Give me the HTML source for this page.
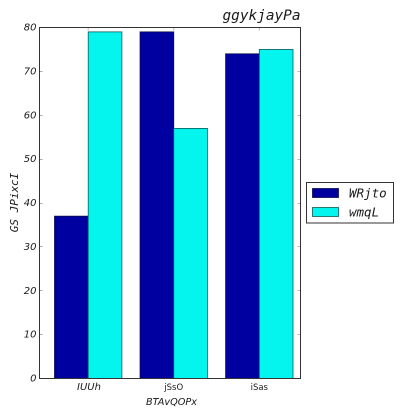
<!DOCTYPE html>
<html><head><meta charset="utf-8"><style>
html,body{margin:0;padding:0;background:#fff;width:416px;height:416px;overflow:hidden}
svg{display:block}
text{fill:#1a1a1a}
.tk{font-family:"DejaVu Sans",sans-serif;font-style:italic;font-size:10px}
.mono{font-family:"DejaVu Sans Mono",monospace;font-style:italic}
</style></head><body>
<svg id="chart" xmlns="http://www.w3.org/2000/svg" width="416" height="416" viewBox="0 0 416 416"></svg>
<script>
const categories = ['IUUh', 'jSsO', 'iSas'];
const seriesNames = ['WRjto', 'wmqL'];
const seriesA = [37, 79, 74];
const seriesB = [79, 57, 75];
const yTicks = [0, 10, 20, 30, 40, 50, 60, 70, 80];

const svg = document.getElementById('chart');
const NS = 'http://www.w3.org/2000/svg';
const L = 39.5, R = 300.5, T = 27.5, B = 378.5;
const colors = ['#0000a0', '#04f4ee'];
const edges = ['#0a0a50', '#0a5a5a'];
function yScale(v) { return B - (v / 80) * (B - T); }
function xScale(i) { return 88.2 + i * 85.55; }
const barW = 33.7;

function add(tag, attrs, text) {
  const el = document.createElementNS(NS, tag);
  for (const k in attrs) el.setAttribute(k, attrs[k]);
  if (text !== undefined) el.textContent = text;
  svg.appendChild(el);
  return el;
}

[seriesA, seriesB].forEach(function (vals, s) {
  vals.forEach(function (v, i) {
    const x = xScale(i) + (s === 0 ? -barW : 0);
    const el = add('rect', { x: x, y: yScale(v), width: barW, height: B - yScale(v), fill: colors[s], stroke: edges[s], 'stroke-width': 0.8 });
    
    
  });
});

yTicks.forEach(function (t) {
  const y = Math.floor(yScale(t)) + 0.5;
  const left = add('line', { x1: L, x2: L + 3, y1: y, y2: y, stroke: '#aaa', 'stroke-width': 1 });
  
  
  const right = add('line', { x1: R - 3, x2: R, y1: y, y2: y, stroke: '#bbb', 'stroke-width': 1 });
  
  
  const lab = add('text', { x: L - 3, y: yScale(t) + 3, 'text-anchor': 'end', class: 'tk' }, String(t));
  
  
});

categories.forEach(function (c, i) {
  const x = xScale(i);
  const top = add('line', { x1: x, x2: x, y1: T, y2: T + 3, stroke: '#bbb', 'stroke-width': 1 });
  
  
  const lab = add('text', { x: x + (i === 0 ? 0.8 : 0), y: 390, 'text-anchor': 'middle', 'font-family': '"DejaVu Sans",sans-serif', 'font-size': i === 0 ? 10 : 8.5, 'font-style': i === 0 ? 'italic' : 'normal' }, c);
  
  
});

const frame = add('rect', { x: L, y: T, width: R - L, height: B - T, fill: 'none', stroke: '#333', 'stroke-width': 1 });



const title = add('text', { x: 300.5, y: 20, 'text-anchor': 'end', class: 'mono', 'font-size': 14.4 }, 'ggykjayPa');



const xt = add('text', { x: 171.5, y: 405, 'text-anchor': 'middle', class: 'tk', textLength: 51, lengthAdjust: 'spacingAndGlyphs' }, 'BTAvQOPx');



const yt = add('text', { x: 0, y: 0, 'text-anchor': 'middle', class: 'mono', 'font-size': 11, transform: 'translate(18 202.5) rotate(-90)' }, 'GS JPixcI');



const box = add('rect', { x: 306.5, y: 182.5, width: 87, height: 40.5, fill: '#fff', stroke: '#333', 'stroke-width': 1 });



seriesNames.forEach(function (n, s) {
  const y = 188.5 + s * 19;
  const sw = add('rect', { x: 312.5, y: y, width: 26, height: 9, fill: colors[s], stroke: edges[s], 'stroke-width': 0.8 });
  
  
  const lab = add('text', { x: 349, y: y + 9, class: 'mono', 'font-size': 12.5 }, n);
  
  
});
</script>
</body></html>
